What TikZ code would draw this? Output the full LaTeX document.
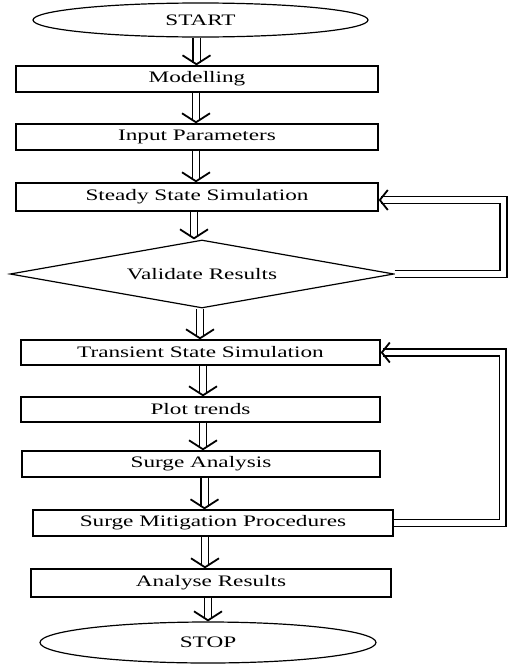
\documentclass[tikz,border=0pt]{standalone}
\usepackage{fontspec}
\setmainfont{Liberation Serif}[FakeStretch=1.45]
\usetikzlibrary{shapes.geometric,arrows.meta}
\begin{document}
\begin{tikzpicture}[x=1pt,y=-1pt,
  every node/.style={font=\fontsize{16}{18}\selectfont, inner sep=0pt},
  proc/.style={draw, line width=1.3pt, rectangle, minimum width=#1, minimum height=26pt},
  term/.style={draw, line width=1.2pt, ellipse},
  dec/.style={draw, line width=1.2pt, diamond, aspect=5.6, minimum width=384pt, minimum height=68pt},
  dbl/.style={double, double distance=6pt, line width=1.4pt, -{Straight Barb[length=9pt, width=28pt, line width=1.8pt]}},
  fb/.style={double, double distance=5.5pt, line width=1.4pt, -{Straight Barb[length=8pt, width=20pt, line width=1.8pt]}}]
\useasboundingbox (0,0) rectangle (510,664);
\node[term, minimum width=335pt, minimum height=34pt] (start) at (200.5,20) {START};
\node[proc=362pt] (model) at (197,79) {Modelling};
\node[proc=362pt] (input) at (197,137) {Input Parameters};
\node[proc=362pt, minimum height=28pt] (steady) at (197,197) {Steady State Simulation};
\node[dec] (val) at (202,274) {Validate Results};
\node[proc=359pt, minimum height=25pt] (trans) at (200.5,352.5) {Transient State Simulation};
\node[proc=359pt, minimum height=25pt] (plot) at (200.5,409.5) {Plot trends};
\node[proc=358pt] (surge) at (201,464) {Surge Analysis};
\node[proc=360pt] (mitig) at (213,523) {Surge Mitigation Procedures};
\node[proc=360pt, minimum height=28pt] (anal) at (211,583) {Analyse Results};
\node[term, minimum width=336pt, minimum height=41pt] (stop) at (208,642.5) {STOP};

\draw[dbl] ([xshift=-4pt]start.south) -- ([xshift=-4pt]start.south |- model.north);
\draw[dbl] ([xshift=-1pt]model.south) -- ([xshift=-1pt]model.south |- input.north);
\draw[dbl] ([xshift=-1pt]input.south) -- ([xshift=-1pt]input.south |- steady.north);
\draw[dbl] ([xshift=-3pt]steady.south) -- ([xshift=-3pt]steady.south |- val.north);
\draw[dbl] ([xshift=-2pt]val.south) -- ([xshift=-2pt]val.south |- trans.north);
\draw[dbl] ([xshift=2.5pt]trans.south) -- ([xshift=2.5pt]trans.south |- plot.north);
\draw[dbl] ([xshift=2.5pt]plot.south) -- ([xshift=2.5pt]plot.south |- surge.north);
\draw[dbl] ([xshift=3.5pt]surge.south) -- ([xshift=3.5pt]surge.south |- mitig.north);
\draw[dbl] ([xshift=-8pt]mitig.south) -- ([xshift=-8pt]mitig.south |- anal.north);
\draw[dbl] ([xshift=-3pt]anal.south) -- ([xshift=-3pt]anal.south |- stop.north);

\draw[fb] (val.east) -- ++(109,0) |- ([yshift=-3pt]steady.east);
\draw[fb] (mitig.east) -- ++(109,0) |- (trans.east);
\end{tikzpicture}
\end{document}
